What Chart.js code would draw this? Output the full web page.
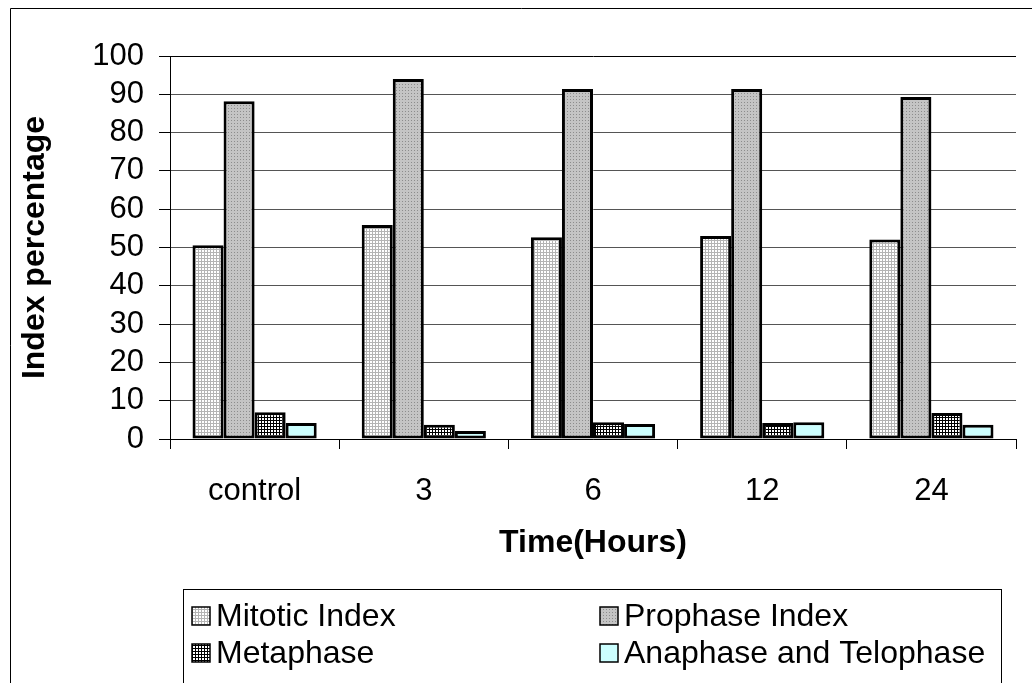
<!DOCTYPE html>
<html>
<head>
<meta charset="utf-8">
<script src="https://cdn.jsdelivr.net/npm/chart.js@4/dist/chart.umd.min.js"></script>
<style>
  body { margin: 0; background: #fff; }
  #wrap { width: 1032px; height: 683px; }
</style>
</head>
<body>
<div id="wrap"><canvas id="bar-chart" width="1032" height="683"></canvas></div>
<script>
const categories = ["control", "3", "6", "12", "24"];
const seriesNames = ["Mitotic Index", "Prophase Index", "Metaphase", "Anaphase and Telophase"];
const mitotic = [50.6, 55.9, 52.7, 53.0, 52.1];
const prophase = [88.2, 94.0, 91.4, 91.4, 89.3];
const metaphase = [7.0, 3.7, 4.4, 4.2, 6.8];
const anaphase = [4.2, 2.1, 3.9, 4.4, 3.7];
const yTicks = [0, 10, 20, 30, 40, 50, 60, 70, 80, 90, 100];

const FONT = "'Liberation Sans', Arial, sans-serif";

// small tiles to imitate the excel fill patterns
function makePattern(size, bg, fg, cells) {
  const c = document.createElement("canvas");
  c.width = size;
  c.height = size;
  const x = c.getContext("2d");
  x.fillStyle = bg;
  x.fillRect(0, 0, size, size);
  x.fillStyle = fg;
  cells.forEach(([i, j]) => x.fillRect(i, j, 1, 1));
  return x.createPattern(c, "repeat");
}
const patMitotic = makePattern(3, "#ffffff", "#b4b4b4", [[0, 0], [1, 0], [2, 0], [0, 1], [0, 2]]);
const patProphase = makePattern(3, "#c4c4c4", "#8c8c8c", [[0, 0]]);
const patMeta = makePattern(3, "#ffffff", "#000000", [[0, 0], [1, 0], [2, 0], [0, 1], [0, 2]]);
const fills = [patMitotic, patProphase, patMeta, "#ccffff"];
const values = [mitotic, prophase, metaphase, anaphase];

// frame + legend box drawn around the chart
const framePlugin = {
  id: "frame",
  beforeDraw(chart) {
    const c = chart.ctx;
    c.save();
    c.fillStyle = "#fff";
    c.fillRect(0, 0, chart.width, chart.height);
    c.strokeStyle = "#000";
    c.lineWidth = 1;
    c.beginPath();
    c.moveTo(10.5, chart.height);
    c.lineTo(10.5, 8.5);
    c.lineTo(chart.width, 8.5);
    c.stroke();
    c.restore();
  },
  afterDraw(chart) {
    const c = chart.ctx;
    c.save();
    c.strokeStyle = "#000";
    c.lineWidth = 1;
    c.strokeRect(183.5, 589.5, 818, 200);
    const colX = [192, 600];
    const rowY = [615, 652];
    c.font = "32px " + FONT;
    c.textBaseline = "middle";
    chart.data.datasets.forEach((ds, i) => {
      const x = colX[i % 2];
      const y = rowY[Math.floor(i / 2)];
      c.fillStyle = ds.backgroundColor;
      c.fillRect(x, y - 8, 18, 18);
      c.lineWidth = 1.5;
      c.strokeStyle = "#000";
      c.strokeRect(x, y - 8, 18, 18);
      c.fillStyle = "#000";
      c.fillText(ds.label, x + 24, y + 2);
    });
    c.restore();
  },
};

new Chart(document.getElementById("bar-chart"), {
  type: "bar",
  data: {
    labels: categories,
    datasets: seriesNames.map((name, i) => ({
      label: name,
      data: values[i],
      backgroundColor: fills[i],
      borderColor: "#000",
      borderWidth: 3,
      borderSkipped: false,
      categoryPercentage: 0.734,
      barPercentage: 1,
    })),
  },
  options: {
    responsive: false,
    animation: false,
    layout: { padding: { left: 12, top: 56, right: 16, bottom: 103 } },
    plugins: {
      legend: { display: false },
      tooltip: { enabled: false },
    },
    scales: {
      x: {
        offset: true,
        grid: {
          offset: true,
          color: (c) => (c.index === categories.length ? "#555" : "rgba(0,0,0,0)"),
          tickColor: "#000",
          tickLength: 10,
        },
        border: { display: true, color: "#000", width: 1 },
        ticks: { color: "#000", font: { family: FONT, size: 31 }, padding: 24, maxRotation: 0 },
        title: {
          display: true,
          text: "Time(Hours)",
          color: "#000",
          font: { family: FONT, size: 32, weight: "bold" },
          padding: { top: 0, bottom: 18 },
        },
        afterFit: (scale) => { scale.height = 141; },
      },
      y: {
        min: 0,
        max: 100,
        afterBuildTicks: (scale) => { scale.ticks = yTicks.map((v) => ({ value: v })); },
        grid: {
          color: (c) => (c.tick && c.tick.value === 100 ? "#000" : "#555"),
          tickColor: "#000",
          tickLength: 11,
        },
        border: { display: true, color: "#000", width: 1 },
        ticks: { color: "#000", font: { family: FONT, size: 31 }, padding: 15, autoSkip: false },
        title: {
          display: true,
          text: "Index percentage",
          color: "#000",
          font: { family: FONT, size: 32, weight: "bold" },
          padding: { top: 4, bottom: 0 },
        },
        afterFit: (scale) => { scale.width = 158; },
      },
    },
  },
  plugins: [framePlugin],
});
</script>
</body>
</html>
